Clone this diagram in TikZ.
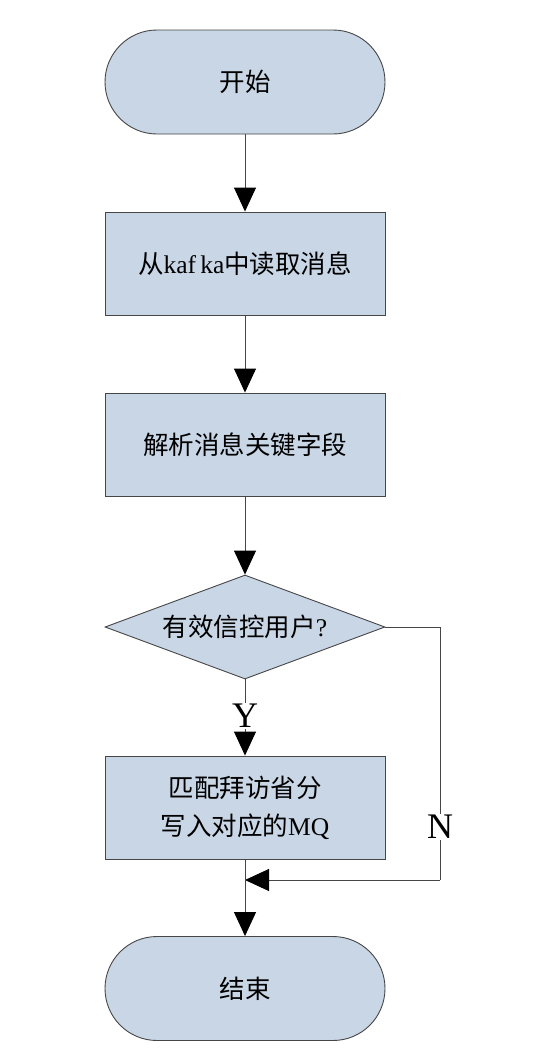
\documentclass[tikz,border=0pt]{standalone}
\usepackage{fontspec}
\setmainfont{Liberation Serif}
\newfontfamily\cjk{Noto Sans CJK SC}
\usetikzlibrary{shapes.geometric,arrows.meta}
\definecolor{boxfill}{RGB}{200,214,230}
\definecolor{edgecol}{RGB}{70,70,70}
\begin{document}
\begin{tikzpicture}[x=1pt,y=-1pt,
  base/.style={draw=edgecol,fill=boxfill,line width=0.9pt,inner sep=0pt,font=\fontsize{25.5}{38}\selectfont},
  term/.style={base,rectangle,rounded corners=52pt,minimum width=280pt,minimum height=104pt},
  proc/.style={base,rectangle,minimum width=280pt,minimum height=103pt,align=center},
  dec/.style={base,diamond,aspect=2.7,minimum width=280pt,minimum height=104pt},
  conn/.style={draw=edgecol,line width=0.9pt,-{Triangle[length=24pt,width=22pt,fill=black,color=black]}},
  line/.style={draw=edgecol,line width=0.9pt},
  lab/.style={fill=white,inner sep=1pt,font=\fontsize{36}{36}\selectfont}]
\useasboundingbox (0,0) rectangle (554,1060);
\node[term] (start) at (245,82) {\cjk 开始};
\node[proc] (read) at (245,263.5) {{\cjk 从}kaf\,ka{\cjk 中读取消息}};
\node[proc] (parse) at (245,444.5) {\cjk 解析消息关键字段};
\node[dec] (check) at (245,627) {{\cjk 有效信控用户}?};
\node[proc] (write) at (245,807.5) {{\cjk 匹配拜访省分}\\{\cjk 写入对应的}MQ};
\node[term] (stop) at (245,988.5) {\cjk 结束};
\coordinate (c1) at (440,627);
\coordinate (c2) at (440,880);
\coordinate (c3) at (245,880);
\draw[conn] (start) -- (read);
\draw[conn] (read) -- (parse);
\draw[conn] (parse) -- (check);
\draw[conn] (check) -- node[lab,pos=0.48] (y) {Y} (write);
\draw[line] (check.east) -- (c1) -- node[lab,pos=0.79] (n) {N} (c2);
\draw[conn] (c2) -- (c3);
\draw[conn] (write) -- (stop);
\end{tikzpicture}
\end{document}
